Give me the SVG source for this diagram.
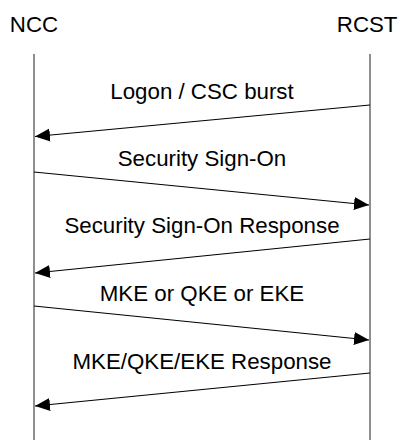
<svg xmlns="http://www.w3.org/2000/svg" width="398" height="440" viewBox="0 0 398 440">
<style>
text{font-family:"Liberation Sans",Arial,sans-serif;font-size:22.3px;fill:#000;text-anchor:middle}
.life{stroke:#444;stroke-width:1.2;fill:none}
.msg{stroke:#000;stroke-width:1.2;fill:none;marker-end:url(#ah)}
</style>
<defs>
<marker id="ah" markerUnits="userSpaceOnUse" markerWidth="16" markerHeight="14" refX="15" refY="6.5" orient="auto">
<path d="M0,0 L15,6.5 L0,13 Z" fill="#000"/>
</marker>
</defs>
<rect width="398" height="440" fill="#fff"/>
<g id="ncc">
<text x="34" y="32">NCC</text>
<line class="life" x1="34" y1="54" x2="34" y2="440"/>
</g>
<g id="rcst">
<text x="397.5" y="32" style="text-anchor:end">RCST</text>
<line class="life" x1="370" y1="54" x2="370" y2="440"/>
</g>
<g id="connectors">
<line class="msg" x1="370" y1="105" x2="35" y2="136.5"/>
<text x="202" y="99">Logon / CSC burst</text>
<line class="msg" x1="34" y1="172" x2="369" y2="205"/>
<text x="202" y="166">Security Sign-On</text>
<line class="msg" x1="370" y1="239" x2="35" y2="273"/>
<text x="202" y="233">Security Sign-On Response</text>
<line class="msg" x1="34" y1="306" x2="369" y2="340"/>
<text x="202" y="301">MKE or QKE or EKE</text>
<line class="msg" x1="370" y1="373" x2="35" y2="406"/>
<text x="202" y="369">MKE/QKE/EKE Response</text>
</g>
</svg>
